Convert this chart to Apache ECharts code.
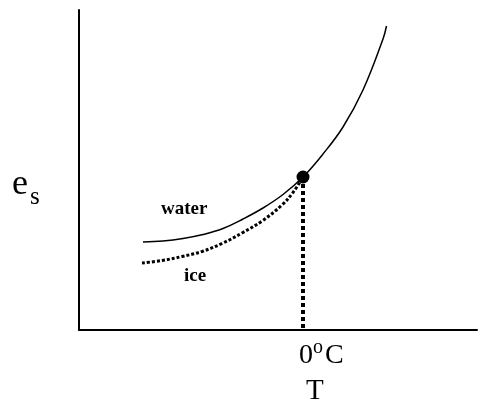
<!DOCTYPE html>
<html>
<head>
<meta charset="utf-8">
<script src="https://cdn.jsdelivr.net/npm/echarts@6/dist/echarts.min.js"></script>
<style>html,body{margin:0;padding:0;background:#fff;}#c{width:479px;height:407px;}</style>
</head>
<body>
<div id="c"></div>
<script>
// Arbitrary units: x = temperature relative to 0°C, y = saturation vapour pressure
var waterT  = [-160, -140, -120, -100, -80, -60, -40, -20, 0, 20, 40, 60, 80, 83.5];
var waterE  = [88, 89, 91.5, 95.5, 101.5, 111, 122, 135.5, 153, 176, 203, 240, 291, 304];
var iceT    = [-161, -141, -121, -101, -81, -61, -41, -21, -10, 0];
var iceE    = [67, 69.5, 73.5, 78.5, 86.5, 97, 109, 125, 137.5, 153];
var tripleT = [0];
var tripleE = [153];
var xRange  = [-224, 174];
var yRange  = [0, 320];

function pairs(xs, ys) { return xs.map(function (x, i) { return [x, ys[i]]; }); }

var chart = echarts.init(document.getElementById('c'), null, { renderer: 'canvas' });
var serif = '"Liberation Serif", "Times New Roman", serif';
chart.setOption({
  animation: false,
  backgroundColor: '#fff',
  grid: { left: 79, right: 2, top: 10, bottom: 77 },
  xAxis: {
    type: 'value', min: xRange[0], max: xRange[1],
    axisLine: { show: true, onZero: false, lineStyle: { color: '#000', width: 2 } },
    axisTick: { show: false }, axisLabel: { show: false }, splitLine: { show: false }
  },
  yAxis: {
    type: 'value', min: yRange[0], max: yRange[1],
    axisLine: { show: true, onZero: false, lineStyle: { color: '#000', width: 2 } },
    axisTick: { show: false }, axisLabel: { show: false }, splitLine: { show: false }
  },
  series: [
    {
      name: 'water', type: 'line', smooth: 0.4, symbol: 'none',
      data: pairs(waterT, waterE),
      lineStyle: { color: '#000', width: 1.5 }
    },
    {
      name: 'ice', type: 'line', smooth: 0.4, symbol: 'none',
      data: pairs(iceT, iceE),
      lineStyle: { color: '#000', width: 3, type: [3, 2] }
    },
    {
      name: 'drop', type: 'line', symbol: 'none',
      data: [[tripleT[0], tripleE[0]], [tripleT[0], yRange[0]]],
      lineStyle: { color: '#000', width: 4, type: [4, 3] }
    },
    {
      name: 'point', type: 'scatter', symbol: 'circle', symbolSize: 13,
      data: pairs(tripleT, tripleE),
      itemStyle: { color: '#000', opacity: 1 }, z: 5
    }
  ],
  graphic: [
    { type: 'text', left: 12, top: 167, style: { text: 'e', font: '36px ' + serif, fill: '#000' } },
    { type: 'text', left: 30, top: 185, style: { text: 's', font: '25px ' + serif, fill: '#000' } },
    { type: 'text', left: 161, top: 200, style: { text: 'water', font: 'bold 19px ' + serif, fill: '#000' } },
    { type: 'text', left: 184, top: 267, style: { text: 'ice', font: 'bold 19px ' + serif, fill: '#000' } },
    { type: 'text', left: 299, top: 342, style: { text: '0', font: '28px ' + serif, fill: '#000' } },
    { type: 'text', left: 313, top: 338, style: { text: 'o', font: '20px ' + serif, fill: '#000' } },
    { type: 'text', left: 325, top: 342, style: { text: 'C', font: '28px ' + serif, fill: '#000' } },
    { type: 'text', left: 306, top: 377, style: { text: 'T', font: '29px ' + serif, fill: '#000' } }
  ]
});
</script>
</body>
</html>
